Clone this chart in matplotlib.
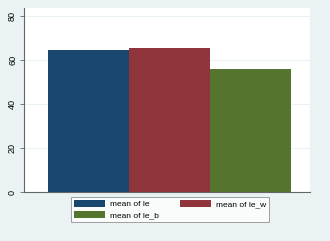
import matplotlib.pyplot as plt
from matplotlib.patches import Patch

labels = ["mean of le", "mean of le_w", "mean of le_b"]
values = [64.5, 65.4, 55.9]
colors = ["#1a476f", "#90353b", "#55752f"]
yticks = [0, 20, 40, 60, 80]

plt.rcParams['font.family'] = ['Liberation Sans', 'DejaVu Sans']

fig = plt.figure(figsize=(3.3, 2.41), dpi=100)
fig.patch.set_facecolor("#eaf2f3")
ax = fig.add_axes([0.0727, 0.202, 0.866, 0.765])
ax.set_facecolor("white")

ax.bar(range(len(values)), values, width=1.0, color=colors, zorder=2)
ax.set_xlim(-0.8, 2.73)
ax.set_ylim(0, 83.8)
ax.set_yticks(yticks)
ax.set_yticklabels([str(t) for t in yticks], rotation=90, va="center", fontsize=6.5)
ax.set_xticks([])
ax.grid(axis="y", color="#eaf2f3", linewidth=0.8, zorder=0)
for s in ["top", "right"]:
    ax.spines[s].set_visible(False)
for s in ["left", "bottom"]:
    ax.spines[s].set_color("#666666")
    ax.spines[s].set_linewidth(0.8)
ax.tick_params(axis="y", length=3, width=0.6, color="#666666", pad=2)

handles = [Patch(facecolor=c, edgecolor="none") for c in colors]
order = [0, 2, 1]
leg = fig.legend([handles[i] for i in order], [labels[i] for i in order], ncol=2,
                 loc="center", bbox_to_anchor=(170 / 330, 1 - 209.5 / 241),
                 fontsize=6, frameon=True, fancybox=False, handlelength=3.7,
                 handleheight=0.9, columnspacing=2.6, borderpad=0.35,
                 labelspacing=0.3, handletextpad=0.55)
leg.get_frame().set_edgecolor("#777777")
leg.get_frame().set_linewidth(0.6)

fig.savefig("out.png", dpi=100, facecolor=fig.get_facecolor())
